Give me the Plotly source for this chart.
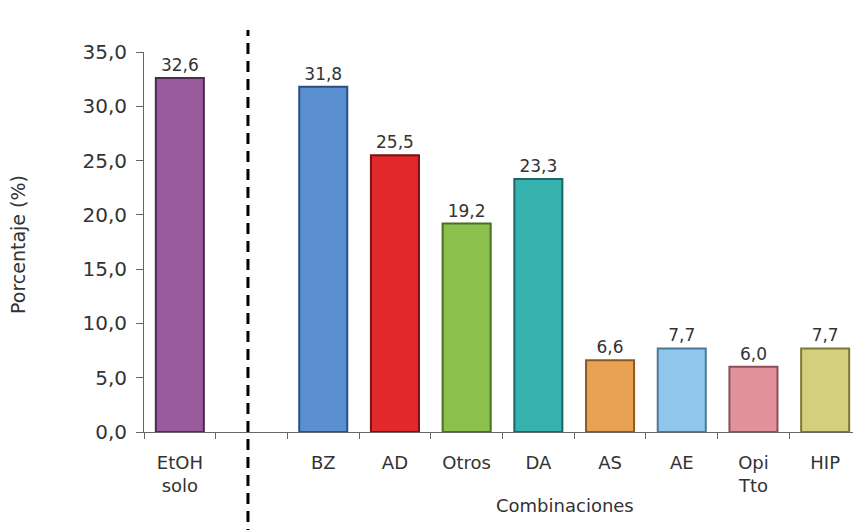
import plotly.graph_objects as go

# categories (the blank one is the gap behind the dashed separator)
categories = ["EtOH<br>solo", " ", "BZ", "AD", "Otros", "DA", "AS", "AE", "Opi<br>Tto", "HIP"]
bar_cats = ["EtOH<br>solo", "BZ", "AD", "Otros", "DA", "AS", "AE", "Opi<br>Tto", "HIP"]
porcentaje = [32.6, 31.8, 25.5, 19.2, 23.3, 6.6, 7.7, 6.0, 7.7]
colores = ["#9a5b9c", "#5a8fd2", "#e1282c", "#8cc04c", "#36b3ae",
           "#e9a253", "#90c6ec", "#e2929c", "#d3cf7c"]
bordes = ["#4e2a50", "#2c4f80", "#7a1214", "#4a6e22", "#1a6866",
          "#8a5a24", "#4a7898", "#8a5058", "#7c7838"]

# page has an 8px body margin, so the figure is drawn a bit smaller
W, H = 853, 522
L, T, B = 136, 44, 98
pw = W - L
ph = H - T - B

fig = go.Figure()
fig.add_trace(go.Bar(
    x=bar_cats, y=porcentaje,
    marker=dict(color=colores, line=dict(color=bordes, width=2)),
    texttemplate="%{y:.1f}", textposition="outside",
    textfont=dict(size=17, color="#333333"),
    cliponaxis=False,
))

# dashed separator between "EtOH solo" and the combinations
fig.add_shape(type="line", xref="x", yref="paper", x0=0.95, x1=0.95,
              y0=-(B + 10) / ph, y1=(T - 22) / ph + 1,
              line=dict(color="black", width=3, dash="11px,7px"))

fig.add_annotation(text="Combinaciones", xref="paper", yref="paper",
                   x=(565 - 144) / pw, y=-(505 - 432) / ph,
                   xanchor="center", yanchor="middle", showarrow=False,
                   font=dict(size=18, color="#333333"))
fig.add_annotation(text="Porcentaje (%)", xref="paper", yref="paper",
                   x=(18 - 144) / pw, y=(432 - 245) / ph, textangle=-90,
                   xanchor="center", yanchor="middle", showarrow=False,
                   font=dict(size=19, color="#333333"))

fig.update_layout(
    width=W, height=H,
    margin=dict(l=L, r=0, t=T, b=B),
    plot_bgcolor="white", paper_bgcolor="white",
    separators=",.",
    font=dict(family="DejaVu Sans, Verdana, sans-serif", color="#333333"),
    bargap=0.33,
    showlegend=False,
)
fig.update_xaxes(
    type="category", categoryorder="array", categoryarray=categories,
    range=[-0.5, 9.5], tickson="boundaries", ticks="outside", ticklen=6,
    tickcolor="#666666", showline=True, linecolor="#666666", linewidth=1,
    tickfont=dict(size=18, color="#333333"), showgrid=False,
    ticklabelstandoff=14,
)
fig.update_yaxes(
    range=[0, 35], dtick=5, tickformat=".1f", ticks="outside", ticklen=7,
    tickcolor="#666666", showline=True, linecolor="#666666", linewidth=1,
    tickfont=dict(size=20, color="#333333"), showgrid=False, zeroline=False,
    ticklabelstandoff=5,
)

fig.write_html("out.html")
